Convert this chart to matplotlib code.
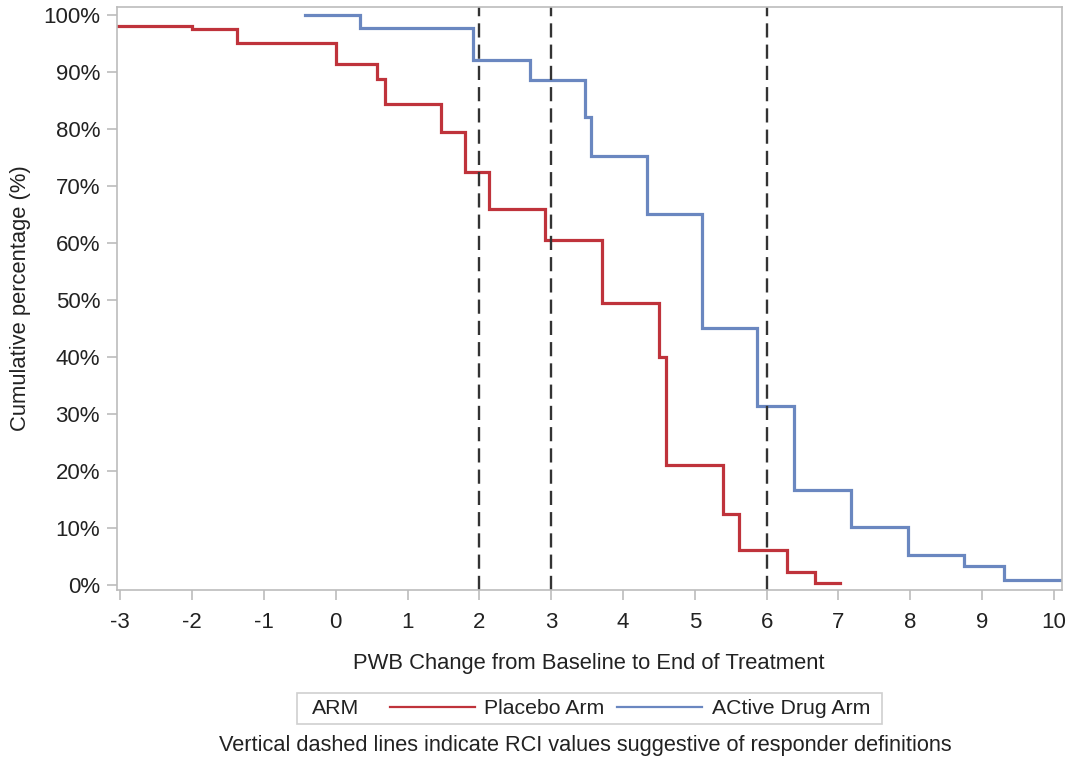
import matplotlib
matplotlib.use("Agg")
import matplotlib.pyplot as plt
from matplotlib.lines import Line2D
from matplotlib.patches import Rectangle
from matplotlib.ticker import FuncFormatter

plt.rcParams['font.family'] = ['Liberation Sans', 'DejaVu Sans']
plt.rcParams['axes.unicode_minus'] = False

# change points (PWB change) and cumulative % after each point
placebo_x = [-3.3, -2.0, -1.38, 0.0, 0.57, 0.68, 1.46, 1.80, 2.13, 2.92, 3.71,
             4.50, 4.60, 5.39, 5.61, 6.29, 6.68, 7.02]
placebo_y = [98.2, 97.6, 95.2, 91.5, 88.9, 84.4, 79.5, 72.5, 66.0, 60.6, 49.6,
             40.1, 21.2, 12.6, 6.2, 2.4, 0.5, 0.5]

active_x = [-0.43, 0.34, 1.91, 2.70, 3.47, 3.55, 4.33, 5.10, 5.87, 6.38, 7.17,
            7.97, 8.75, 9.30, 10.3]
active_y = [100.0, 97.8, 92.1, 88.7, 82.1, 75.3, 65.1, 45.1, 31.5, 16.8, 10.2,
            5.4, 3.4, 0.9, 0.9]

rci_values = [2, 3, 6]
x_ticks = list(range(-3, 11))
y_ticks = list(range(0, 101, 10))

red = '#bf333b'
blue = '#6a87c0'
grey = '#bcbcbc'
text_col = '#222222'

fig = plt.figure(figsize=(10.68, 7.61), dpi=100)
ax = fig.add_axes([0.1093, 0.2247, 0.8848, 0.7665])

ax.step(placebo_x, placebo_y, where='post', color=red, lw=2.3, solid_joinstyle='miter')
ax.step(active_x, active_y, where='post', color=blue, lw=2.3, solid_joinstyle='miter')

for v in rci_values:
    ax.axvline(v, color='#333333', lw=1.7, linestyle=(0, (6, 3)))

ax.set_xlim(-3.05, 10.11)
ax.set_ylim(-0.8, 101.5)
ax.set_xticks(x_ticks)
ax.set_yticks(y_ticks)
ax.yaxis.set_major_formatter(FuncFormatter(lambda v, p: f"{v:.0f}%"))

for s in ax.spines.values():
    s.set_color(grey)
    s.set_linewidth(1.2)
ax.tick_params(axis='both', colors=grey, length=7, width=1.2, labelsize=16,
               labelcolor=text_col)
ax.tick_params(axis='x', pad=9)
ax.tick_params(axis='y', pad=5)

ax.set_xlabel('PWB Change from Baseline to End of Treatment', fontsize=15.8,
              color=text_col, labelpad=14)
ax.set_ylabel('Cumulative percentage (%)', fontsize=15.8, color=text_col, labelpad=9)

# legend row: framed box with "ARM" followed by the two arms
fig.patches.append(Rectangle((0.278, 0.0486), 0.548, 0.0407, transform=fig.transFigure,
                             facecolor='white', edgecolor='#cfcfcf', lw=1.2))
fig.text(0.292, 0.069, 'ARM', fontsize=15.3, color=text_col, va='center', ha='left')
handles = [Line2D([], [], color=red, lw=1.6), Line2D([], [], color=blue, lw=1.6)]
fig.legend(handles, ['Placebo Arm', 'ACtive Drug Arm'], loc='center left',
           bbox_to_anchor=(0.355, 0.069), ncol=2, frameon=False, fontsize=15.3,
           handlelength=4.0, handletextpad=0.45, columnspacing=0.6, borderpad=0,
           labelcolor=text_col)

fig.text(0.548, 0.021, 'Vertical dashed lines indicate RCI values suggestive of responder definitions',
         fontsize=15.7, color=text_col, ha='center', va='center')

fig.savefig('out.png', dpi=100)
